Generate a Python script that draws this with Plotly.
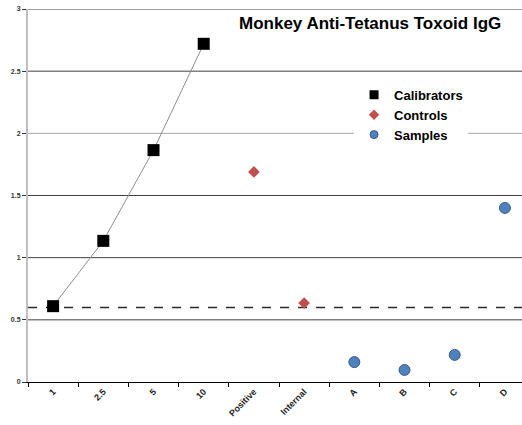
import plotly.graph_objects as go

categories = ["1", "2.5", "5", "10", "Positive", "Internal", "A", "B", "C", "D"]
cal_x = ["1", "2.5", "5", "10"]
cal_y = [0.61, 1.135, 1.865, 2.72]
ctrl_x = ["Positive", "Internal"]
ctrl_y = [1.69, 0.635]
samp_x = ["A", "B", "C", "D"]
samp_y = [0.16, 0.097, 0.218, 1.40]
cutoff = 0.6
y_ticks = [0, 0.5, 1, 1.5, 2, 2.5, 3]
y_tick_text = ["0", "0.5", "1", "1.5", "2", "2.5", "3"]

FONT = "Arial, Liberation Sans, sans-serif"

fig = go.Figure()
fig.add_trace(go.Scatter(
    x=cal_x, y=cal_y, name="Calibrators", mode="lines+markers", showlegend=False,
    line=dict(color="#8c8c8c", width=1),
    marker=dict(symbol="square", size=12, color="black", line=dict(color="black", width=0)),
))
fig.add_trace(go.Scatter(
    x=ctrl_x, y=ctrl_y, name="Controls", mode="markers", showlegend=False,
    marker=dict(symbol="diamond", size=9, color="#C0504D", line=dict(color="#C0504D", width=0)),
))
fig.add_trace(go.Scatter(
    x=samp_x, y=samp_y, name="Samples", mode="markers", showlegend=False,
    marker=dict(symbol="circle", size=11, color="#4F81BD", line=dict(color="#385D8A", width=1)),
))
# legend entries (smaller markers like the reference legend)
fig.add_trace(go.Scatter(x=[None], y=[None], name="<b>Calibrators</b>", mode="markers",
                         marker=dict(symbol="square", size=9, color="black")))
fig.add_trace(go.Scatter(x=[None], y=[None], name="<b>Controls</b>", mode="markers",
                         marker=dict(symbol="diamond", size=8, color="#C0504D")))
fig.add_trace(go.Scatter(x=[None], y=[None], name="<b>Samples</b>", mode="markers",
                         marker=dict(symbol="circle", size=8, color="#4F81BD",
                                     line=dict(color="#385D8A", width=1))))

# horizontal gridlines (the one at 2 is lighter grey in the reference)
for v in y_ticks[1:]:
    fig.add_shape(type="line", xref="paper", x0=0, x1=1, yref="y", y0=v, y1=v,
                  line=dict(color="#a6a6a6" if v == 2 else "#404040", width=1),
                  layer="between")
# cutoff dashed line
fig.add_shape(type="line", xref="paper", x0=0, x1=1, yref="y", y0=cutoff, y1=cutoff,
              line=dict(color="#2a2a2a", width=1.5, dash="dash"), layer="between")

fig.add_annotation(text="<b>Monkey Anti-Tetanus Toxoid IgG</b>", xref="paper", yref="paper",
                   x=0.692, y=0.96, xanchor="center", yanchor="middle", showarrow=False,
                   font=dict(family=FONT, size=17, color="black"))

fig.update_layout(
    width=522, height=425,
    margin=dict(l=28, r=0, t=9, b=43, autoexpand=False),
    paper_bgcolor="white", plot_bgcolor="white",
    font=dict(family=FONT, color="#222"),
    showlegend=True,
    legend=dict(x=0.66, y=0.81, xanchor="left", yanchor="top",
                bgcolor="white", borderwidth=0,
                font=dict(family=FONT, size=13, color="black"),
                itemsizing="trace", tracegroupgap=0,
                itemwidth=30, entrywidth=115),
    xaxis=dict(
        type="category", categoryorder="array", categoryarray=categories,
        range=[-0.5, 9.34], showgrid=False, zeroline=False, automargin=False,
        showline=True, linecolor="black", linewidth=1,
        ticks="outside", tickson="boundaries", ticklen=4, tickcolor="black",
        tickangle=-45, tickfont=dict(family=FONT, size=9, color="#222"),
        tickvals=categories, ticktext=[f"<b>{c}</b>" for c in categories],
    ),
    yaxis=dict(
        range=[0, 3], tickvals=y_ticks, ticktext=[f"<b>{t}</b>" for t in y_tick_text],
        showgrid=False, zeroline=False, automargin=False,
        showline=True, linecolor="#bfbfbf", linewidth=2,
        ticks="outside", ticklen=4, tickcolor="#333",
        tickfont=dict(family=FONT, size=7, color="#333"),
    ),
)

fig.write_html("out.html", config={"displayModeBar": False},
               post_script="document.body.style.margin='0';")
